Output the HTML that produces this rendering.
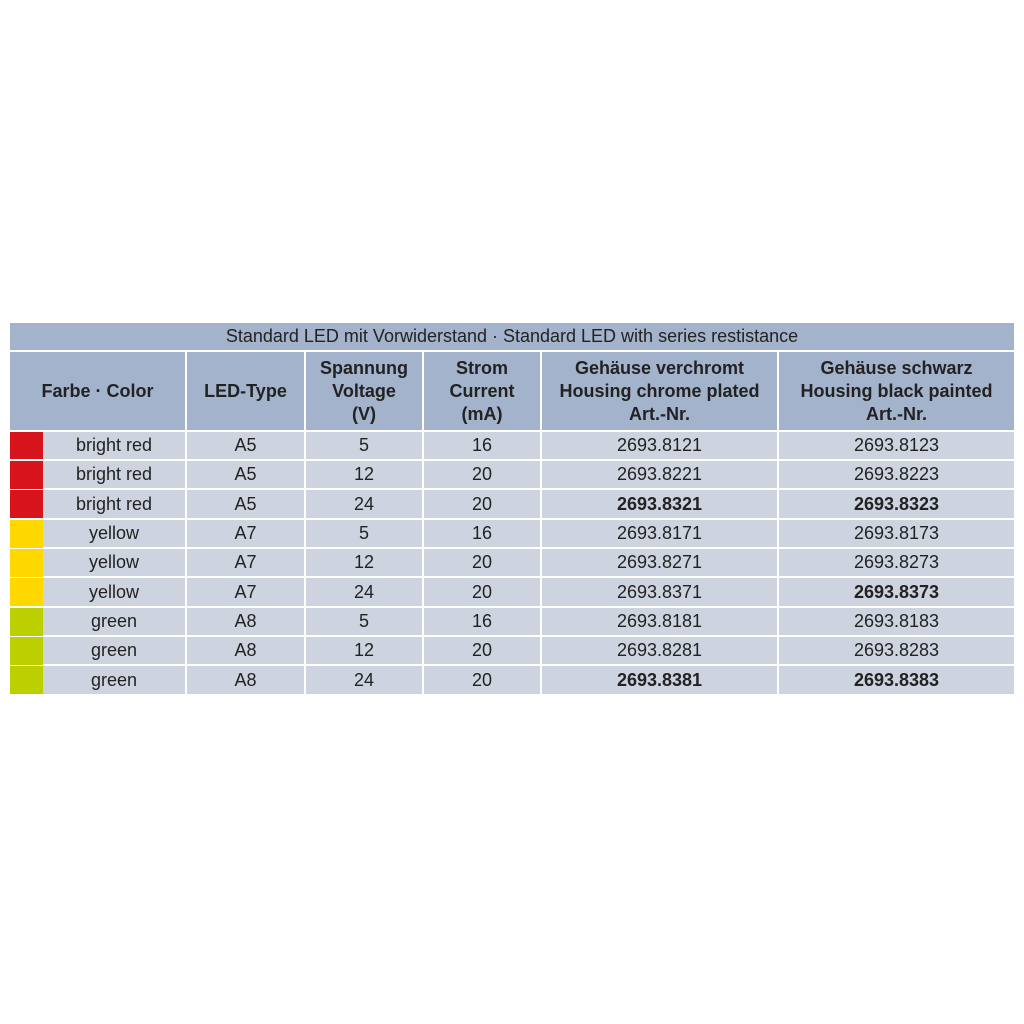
<!DOCTYPE html>
<html><head><style>
body{margin:0;width:1024px;height:1024px;background:#fff;position:relative;font-family:"Liberation Sans",sans-serif;color:#222;}
div.c{position:absolute;display:flex;align-items:center;justify-content:center;text-align:center;font-size:18px;line-height:23px;}
.h{background:#a3b3cc;}
.hb{font-weight:bold;}
.r{background:#cdd4e0;}
b{font-weight:bold;}
</style></head><body>
<div class="c h" style="left:10px;top:323px;width:1004px;height:27px;">Standard LED mit Vorwiderstand · Standard LED with series restistance</div>
<div class="c h hb" style="left:10px;top:352px;width:175px;height:78px;">Farbe · Color</div>
<div class="c h hb" style="left:187px;top:352px;width:117px;height:78px;">LED-Type</div>
<div class="c h hb" style="left:306px;top:352px;width:116px;height:78px;">Spannung<br>Voltage<br>(V)</div>
<div class="c h hb" style="left:424px;top:352px;width:116px;height:78px;">Strom<br>Current<br>(mA)</div>
<div class="c h hb" style="left:542px;top:352px;width:235px;height:78px;">Gehäuse verchromt<br>Housing chrome plated<br>Art.-Nr.</div>
<div class="c h hb" style="left:779px;top:352px;width:235px;height:78px;">Gehäuse schwarz<br>Housing black painted<br>Art.-Nr.</div>

<div class="c" style="left:10px;top:432px;width:33px;height:27px;background:#d7141c"></div>
<div class="c r" style="left:43px;top:432px;width:142px;height:27px;">bright red</div>
<div class="c r" style="left:187px;top:432px;width:117px;height:27px;">A5</div>
<div class="c r" style="left:306px;top:432px;width:116px;height:27px;">5</div>
<div class="c r" style="left:424px;top:432px;width:116px;height:27px;">16</div>
<div class="c r" style="left:542px;top:432px;width:235px;height:27px;">2693.8121</div>
<div class="c r" style="left:779px;top:432px;width:235px;height:27px;">2693.8123</div>

<div class="c" style="left:10px;top:461px;width:33px;height:28px;background:#d7141c"></div>
<div class="c r" style="left:43px;top:461px;width:142px;height:27px;">bright red</div>
<div class="c r" style="left:187px;top:461px;width:117px;height:27px;">A5</div>
<div class="c r" style="left:306px;top:461px;width:116px;height:27px;">12</div>
<div class="c r" style="left:424px;top:461px;width:116px;height:27px;">20</div>
<div class="c r" style="left:542px;top:461px;width:235px;height:27px;">2693.8221</div>
<div class="c r" style="left:779px;top:461px;width:235px;height:27px;">2693.8223</div>

<div class="c" style="left:10px;top:490px;width:33px;height:28px;background:#d7141c"></div>
<div class="c r" style="left:43px;top:490px;width:142px;height:28px;">bright red</div>
<div class="c r" style="left:187px;top:490px;width:117px;height:28px;">A5</div>
<div class="c r" style="left:306px;top:490px;width:116px;height:28px;">24</div>
<div class="c r" style="left:424px;top:490px;width:116px;height:28px;">20</div>
<div class="c r" style="left:542px;top:490px;width:235px;height:28px;"><b>2693.8321</b></div>
<div class="c r" style="left:779px;top:490px;width:235px;height:28px;"><b>2693.8323</b></div>

<div class="c" style="left:10px;top:520px;width:33px;height:28px;background:#ffd800"></div>
<div class="c r" style="left:43px;top:520px;width:142px;height:27px;">yellow</div>
<div class="c r" style="left:187px;top:520px;width:117px;height:27px;">A7</div>
<div class="c r" style="left:306px;top:520px;width:116px;height:27px;">5</div>
<div class="c r" style="left:424px;top:520px;width:116px;height:27px;">16</div>
<div class="c r" style="left:542px;top:520px;width:235px;height:27px;">2693.8171</div>
<div class="c r" style="left:779px;top:520px;width:235px;height:27px;">2693.8173</div>

<div class="c" style="left:10px;top:549px;width:33px;height:28px;background:#ffd800"></div>
<div class="c r" style="left:43px;top:549px;width:142px;height:27px;">yellow</div>
<div class="c r" style="left:187px;top:549px;width:117px;height:27px;">A7</div>
<div class="c r" style="left:306px;top:549px;width:116px;height:27px;">12</div>
<div class="c r" style="left:424px;top:549px;width:116px;height:27px;">20</div>
<div class="c r" style="left:542px;top:549px;width:235px;height:27px;">2693.8271</div>
<div class="c r" style="left:779px;top:549px;width:235px;height:27px;">2693.8273</div>

<div class="c" style="left:10px;top:578px;width:33px;height:28px;background:#ffd800"></div>
<div class="c r" style="left:43px;top:578px;width:142px;height:28px;">yellow</div>
<div class="c r" style="left:187px;top:578px;width:117px;height:28px;">A7</div>
<div class="c r" style="left:306px;top:578px;width:116px;height:28px;">24</div>
<div class="c r" style="left:424px;top:578px;width:116px;height:28px;">20</div>
<div class="c r" style="left:542px;top:578px;width:235px;height:28px;">2693.8371</div>
<div class="c r" style="left:779px;top:578px;width:235px;height:28px;"><b>2693.8373</b></div>

<div class="c" style="left:10px;top:608px;width:33px;height:28px;background:#bccf00"></div>
<div class="c r" style="left:43px;top:608px;width:142px;height:27px;">green</div>
<div class="c r" style="left:187px;top:608px;width:117px;height:27px;">A8</div>
<div class="c r" style="left:306px;top:608px;width:116px;height:27px;">5</div>
<div class="c r" style="left:424px;top:608px;width:116px;height:27px;">16</div>
<div class="c r" style="left:542px;top:608px;width:235px;height:27px;">2693.8181</div>
<div class="c r" style="left:779px;top:608px;width:235px;height:27px;">2693.8183</div>

<div class="c" style="left:10px;top:637px;width:33px;height:28px;background:#bccf00"></div>
<div class="c r" style="left:43px;top:637px;width:142px;height:27px;">green</div>
<div class="c r" style="left:187px;top:637px;width:117px;height:27px;">A8</div>
<div class="c r" style="left:306px;top:637px;width:116px;height:27px;">12</div>
<div class="c r" style="left:424px;top:637px;width:116px;height:27px;">20</div>
<div class="c r" style="left:542px;top:637px;width:235px;height:27px;">2693.8281</div>
<div class="c r" style="left:779px;top:637px;width:235px;height:27px;">2693.8283</div>

<div class="c" style="left:10px;top:666px;width:33px;height:28px;background:#bccf00"></div>
<div class="c r" style="left:43px;top:666px;width:142px;height:28px;">green</div>
<div class="c r" style="left:187px;top:666px;width:117px;height:28px;">A8</div>
<div class="c r" style="left:306px;top:666px;width:116px;height:28px;">24</div>
<div class="c r" style="left:424px;top:666px;width:116px;height:28px;">20</div>
<div class="c r" style="left:542px;top:666px;width:235px;height:28px;"><b>2693.8381</b></div>
<div class="c r" style="left:779px;top:666px;width:235px;height:28px;"><b>2693.8383</b></div>
</body></html>
